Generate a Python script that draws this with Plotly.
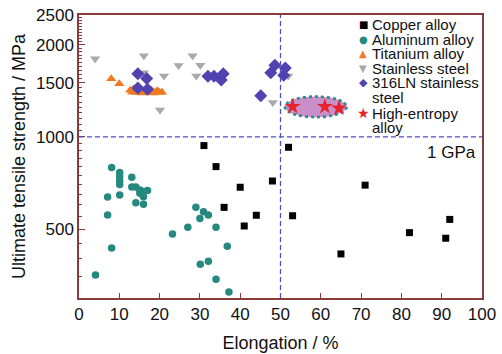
import plotly.graph_objects as go
import math

# ---------------- data ----------------
copper_x = [31, 34, 36, 40, 41, 44, 48, 52, 53, 65, 71, 82, 91, 92]
copper_y = [937, 800, 589, 685, 512, 555, 718, 925, 553, 415, 696, 487, 467, 538]

aluminum_x = [8.1, 10.1, 10.1, 10.1, 10.1, 10.1, 7.1, 7.1, 8.1, 4.1, 13.1, 13.1, 14.1, 15.1, 16.0, 17.0,
              15.1, 16.0, 14.1, 16.0, 29.0, 30.9, 32.1, 30.0, 27.0, 34.0, 23.2, 36.8, 32.1, 30.1, 34.0, 37.2]
aluminum_y = [794, 765, 742, 720, 699, 646, 637, 556, 434, 354, 739, 686, 686, 671, 663, 668,
              655, 638, 610, 603, 589, 570, 556, 542, 507, 507, 482, 440, 393, 384, 343, 312]

titanium_x = [8, 10, 12.7, 13.2, 13.6, 14, 14.4, 14.8, 15.2, 15.6, 16, 16.4, 16.8, 17.2, 17.6, 18,
              18.5, 19, 19.5, 20, 20.6]
titanium_y = [1547, 1490, 1420, 1400, 1435, 1410, 1395, 1425, 1405, 1390, 1415, 1400, 1430, 1395,
              1410, 1420, 1390, 1405, 1415, 1395, 1400]

stainless_x = [4.0, 16.1, 16.1, 21.1, 20.1, 24.7, 28.2, 30.1, 29.1, 48.1, 51.9]
stainless_y = [1800, 1840, 1620, 1580, 1225, 1710, 1840, 1715, 1580, 1295, 1580]

ln316_x = [14.6, 16.8, 14.6, 17.0, 32.0, 33.5, 35.8, 35.3, 45.1, 47.6, 48.6, 51.2, 50.8]
ln316_y = [1607, 1551, 1443, 1430, 1579, 1579, 1607, 1535, 1362, 1619, 1715, 1680, 1590]

hea_x = [53.0, 61.0, 64.5]
hea_y = [1256, 1256, 1241]

# HEA region (ellipse extent)
hea_region_x = [51.1, 66.4]
hea_region_y = [1160, 1354]

y_major = [500, 1000, 1500, 2000, 2500]
y_minor = [v for v in range(300, 2501, 50) if v not in y_major]

# ---------------- style ----------------
FONT = "Liberation Sans, Arial, Helvetica, sans-serif"
FRAME = "#8c3b3b"
DASH = "#4f4fc4"
C_CU = "#000000"
C_AL = "#26897f"
C_TI = "#f07a22"
C_SS = "#a9a9a9"
C_LN = "#5242b0"
C_HEA = "#e8222c"

fig = go.Figure()

def add(x, y, sym, color, size):
    fig.add_trace(go.Scatter(x=x, y=y, mode="markers", showlegend=False,
                             marker=dict(symbol=sym, color=color, size=size, line=dict(width=0))))

# ellipse first (under stars)
fig.add_shape(type="circle", xref="x", yref="y",
              x0=hea_region_x[0], x1=hea_region_x[1], y0=hea_region_y[0], y1=hea_region_y[1],
              fillcolor="#c88fc9", line=dict(color="#2a8c8a", width=2.6, dash="dot"), layer="below")

add(stainless_x, stainless_y, "triangle-down", C_SS, 9)
add(titanium_x, titanium_y, "triangle-up", C_TI, 9)
add(ln316_x, ln316_y, "diamond", C_LN, 10)
add(aluminum_x, aluminum_y, "circle", C_AL, 7.5)
add(copper_x, copper_y, "square", C_CU, 7)
add(hea_x, hea_y, "star", C_HEA, 12)

# reference lines
fig.add_shape(type="line", xref="x", yref="paper", x0=50, x1=50, y0=0, y1=1,
              line=dict(color=DASH, width=1.3, dash="5px,3px"))
fig.add_shape(type="line", xref="paper", yref="y", x0=0, x1=1, y0=1000, y1=1000,
              line=dict(color=DASH, width=1.3, dash="5px,3px"))

fig.add_annotation(x=99, y=math.log10(890), xref="x", yref="y", text="1 GPa", showarrow=False,
                   xanchor="right", yanchor="middle", font=dict(family=FONT, size=17, color="#111"))

# custom legend (text + glyphs)
L, T, H = 79, 15, 283
W = 403
def px(x): return (x - L) / W
def py(y): return (T + H - y) / H

sym_rows = [("■", C_CU, 24, 10), ("●", C_AL, 40, 10), ("▲", C_TI, 54, 10),
            ("▼", C_SS, 68, 10), ("◆", C_LN, 82, 11), ("★", C_HEA, 113, 14)]
for s, c, yy, fs in sym_rows:
    fig.add_annotation(x=px(363), y=py(yy), xref="paper", yref="paper", text=s, showarrow=False,
                       xanchor="center", yanchor="middle", font=dict(family="DejaVu Sans", size=fs, color=c))

text_rows = [("Copper alloy", 24), ("Aluminum alloy", 40), ("Titanium alloy", 54),
             ("Stainless steel", 68), ("316LN stainless", 82), ("steel", 98),
             ("High-entropy", 113), ("alloy", 127)]
for t, yy in text_rows:
    fig.add_annotation(x=px(370), y=py(yy), xref="paper", yref="paper", text=t, showarrow=False,
                       xanchor="left", yanchor="middle", font=dict(family=FONT, size=15, color="#111"))

fig.update_layout(
    width=502, height=354,
    margin=dict(l=79, r=20, t=15, b=56),
    paper_bgcolor="white", plot_bgcolor="white",
    font=dict(family=FONT, size=17, color="#111"),
    showlegend=False,
)
fig.update_xaxes(range=[0, 100], dtick=10, tick0=0, ticks="inside", ticklen=5, tickwidth=1.3,
                 tickcolor=FRAME, showline=True, linecolor=FRAME, linewidth=1.5, mirror=True,
                 showgrid=False, zeroline=False, automargin=False,
                 tickfont=dict(family=FONT, size=17, color="#111"),
                 title=dict(text="Elongation / %", font=dict(family=FONT, size=18, color="#111"), standoff=13))
fig.update_yaxes(type="log", range=[math.log10(298), math.log10(2500)],
                 tickmode="array", tickvals=y_major, ticktext=[str(v) for v in y_major],
                 ticks="inside", ticklen=6, tickwidth=1.3, tickcolor=FRAME,
                 minor=dict(tickmode="array", tickvals=y_minor, ticks="inside", ticklen=3,
                            tickwidth=1, tickcolor=FRAME, showgrid=False),
                 showline=True, linecolor=FRAME, linewidth=1.5, mirror=True,
                 showgrid=False, zeroline=False, automargin=False,
                 tickfont=dict(family=FONT, size=17, color="#111"),
                 title=dict(text="Ultimate tensile strength / MPa", font=dict(family=FONT, size=18, color="#111"),
                            standoff=6))

fig.write_html("out.html")
